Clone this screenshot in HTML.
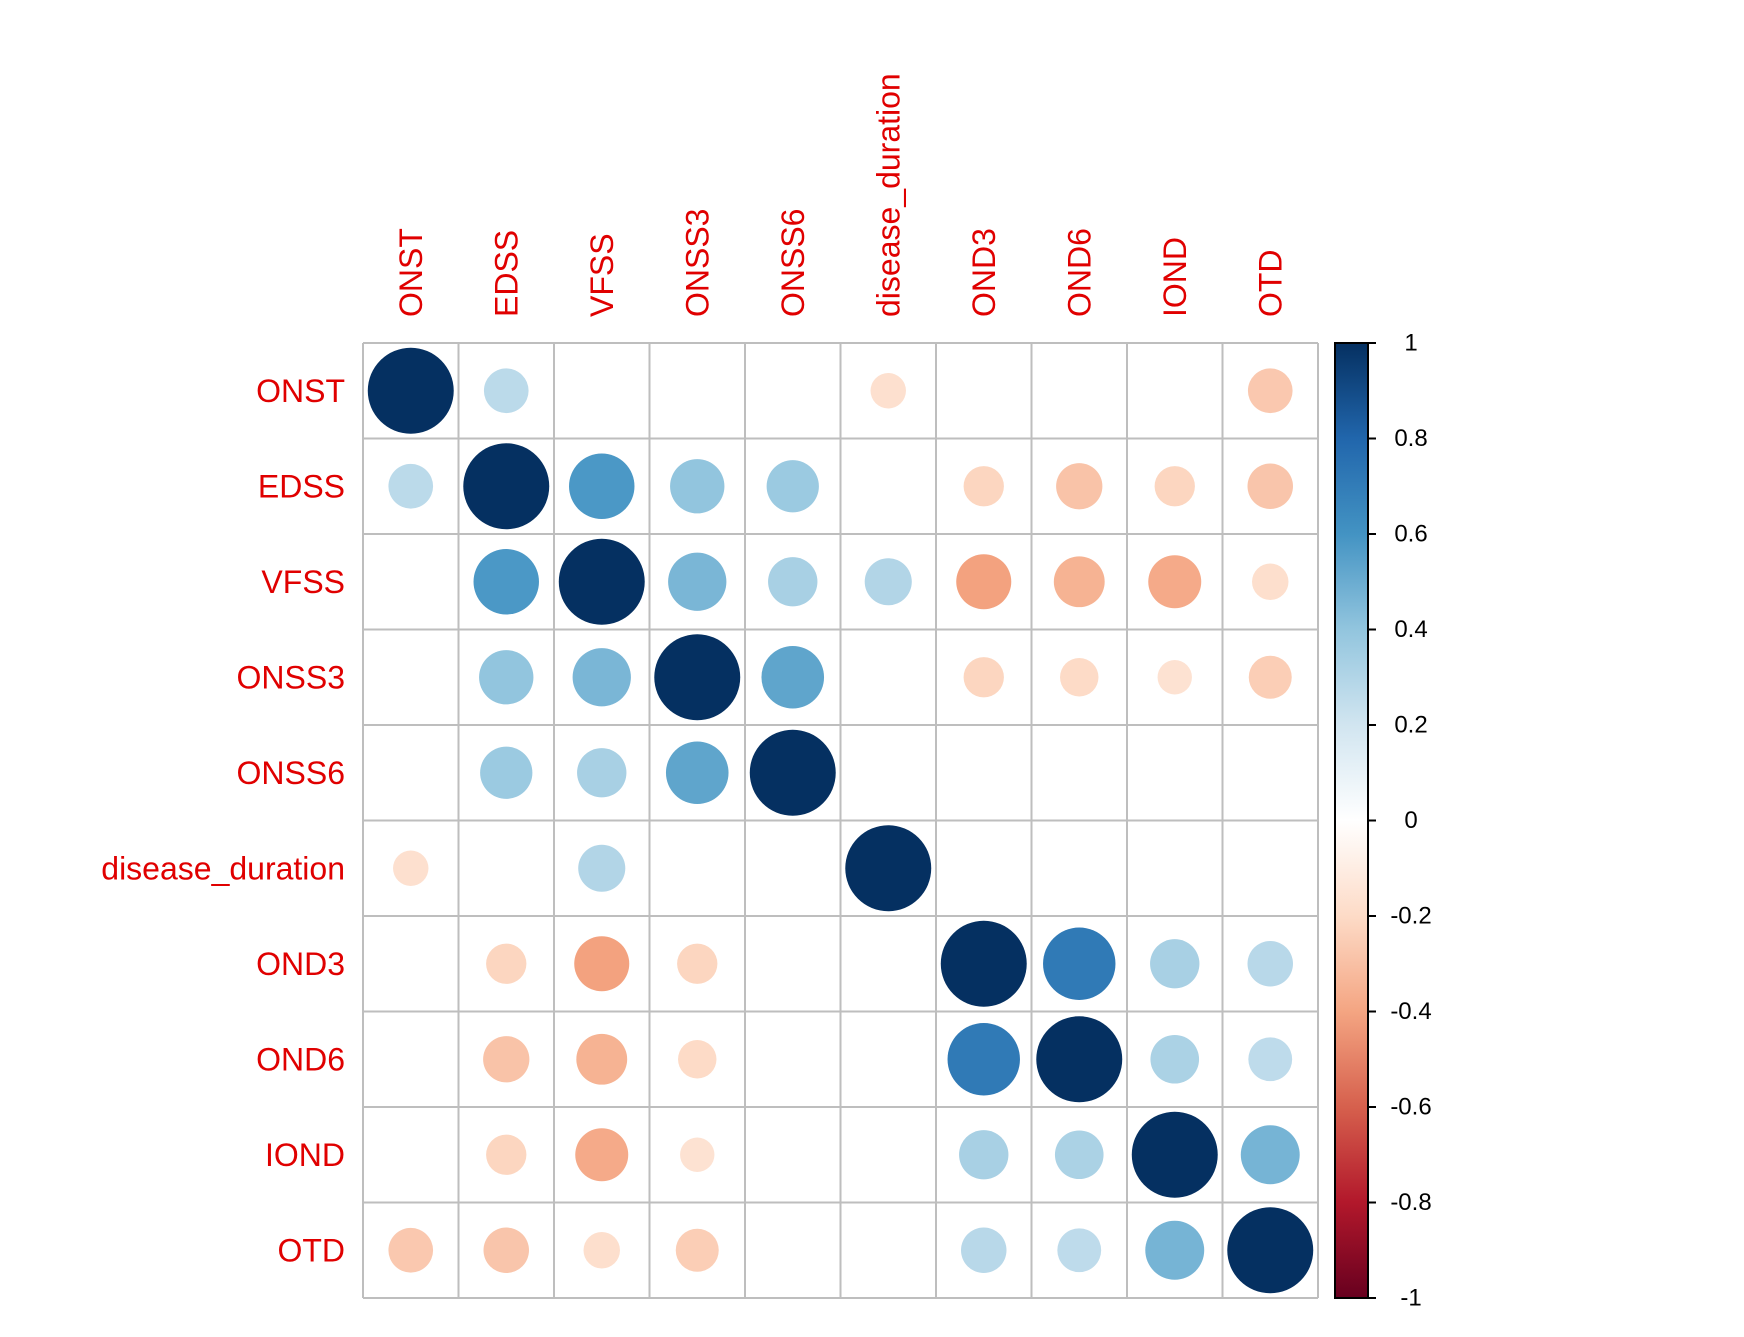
<!DOCTYPE html>
<html><head><meta charset="utf-8"><style>
html,body{margin:0;padding:0;background:#fff;}
svg{display:block;font-family:"Liberation Sans",sans-serif;}
</style></head><body>
<svg id="chart" width="1744" height="1337" viewBox="0 0 1744 1337" xmlns="http://www.w3.org/2000/svg">
<defs><linearGradient id="cbgrad" x1="0" y1="1" x2="0" y2="0">
<stop offset="0" stop-color="#67001F"/><stop offset="0.1" stop-color="#B2182B"/><stop offset="0.2" stop-color="#D6604D"/><stop offset="0.3" stop-color="#F4A582"/><stop offset="0.4" stop-color="#FDDBC7"/><stop offset="0.5" stop-color="#FFFFFF"/><stop offset="0.6" stop-color="#D1E5F0"/><stop offset="0.7" stop-color="#92C5DE"/><stop offset="0.8" stop-color="#4393C3"/><stop offset="0.9" stop-color="#2166AC"/><stop offset="1" stop-color="#053061"/>
</linearGradient></defs>
<g id="grid"></g>
<g id="marks"></g>
<g id="labels"></g>
<g id="colorbar"></g>
</svg>
<script>
const variables = ["ONST","EDSS","VFSS","ONSS3","ONSS6","disease_duration","OND3","OND6","IOND","OTD"];
const rowONST  = [1, 0.27, 0, 0, 0, -0.17, 0, 0, 0, -0.27];
const rowEDSS  = [0.27, 1, 0.58, 0.4, 0.37, 0, -0.22, -0.29, -0.22, -0.28];
const rowVFSS  = [0, 0.58, 1, 0.46, 0.33, 0.3, -0.41, -0.35, -0.38, -0.18];
const rowONSS3 = [0, 0.4, 0.46, 1, 0.53, 0, -0.22, -0.2, -0.16, -0.25];
const rowONSS6 = [0, 0.37, 0.33, 0.53, 1, 0, 0, 0, 0, 0];
const rowDD    = [-0.17, 0, 0.3, 0, 0, 1, 0, 0, 0, 0];
const rowOND3  = [0, -0.22, -0.41, -0.22, 0, 0, 1, 0.71, 0.33, 0.28];
const rowOND6  = [0, -0.29, -0.35, -0.2, 0, 0, 0.71, 1, 0.32, 0.26];
const rowIOND  = [0, -0.22, -0.38, -0.16, 0, 0, 0.33, 0.32, 1, 0.47];
const rowOTD   = [-0.27, -0.28, -0.18, -0.25, 0, 0, 0.28, 0.26, 0.47, 1];
const matrix = [rowONST,rowEDSS,rowVFSS,rowONSS3,rowONSS6,rowDD,rowOND3,rowOND6,rowIOND,rowOTD];
const colorTicks = ["1","0.8","0.6","0.4","0.2","0","-0.2","-0.4","-0.6","-0.8","-1"];
const tickValues = [1,0.8,0.6,0.4,0.2,0,-0.2,-0.4,-0.6,-0.8,-1];

const NS="http://www.w3.org/2000/svg";
const X0=363, Y0=343, SIZE=955, n=variables.length, cell=SIZE/n;
const xPos=i=>X0+cell*(i+0.5), yPos=i=>Y0+cell*(i+0.5);
const stops=[[-1,[103,0,31]],[-0.8,[178,24,43]],[-0.6,[214,96,77]],[-0.4,[244,165,130]],[-0.2,[253,219,199]],[0,[255,255,255]],[0.2,[209,229,240]],[0.4,[146,197,222]],[0.6,[67,147,195]],[0.8,[33,102,172]],[1,[5,48,97]]];
function col(v){for(let k=0;k<stops.length-1;k++){const a=stops[k],b=stops[k+1];if(v>=a[0]&&v<=b[0]){const t=(v-a[0])/(b[0]-a[0]);const c=a[1].map((x,j)=>Math.round(x+(b[1][j]-x)*t));return `rgb(${c})`;}}return '#fff';}
function mk(tag,attrs,parent){const e=document.createElementNS(NS,tag);for(const k in attrs)e.setAttribute(k,attrs[k]);parent.appendChild(e);return e;}

const grid=document.getElementById('grid');
for(let i=0;i<=n;i++){
  const l1=mk('line',{x1:X0+i*cell,x2:X0+i*cell,y1:Y0,y2:Y0+SIZE,stroke:'#bebebe','stroke-width':2},grid);
  
  
  const l2=mk('line',{y1:Y0+i*cell,y2:Y0+i*cell,x1:X0,x2:X0+SIZE,stroke:'#bebebe','stroke-width':2},grid);
  
  
}
const marks=document.getElementById('marks');
matrix.forEach((row,r)=>row.forEach((v,c)=>{
  if(v===0)return;
  const ci=mk('circle',{cx:xPos(c),cy:yPos(r),r:Math.sqrt(Math.abs(v))*cell*0.45,fill:col(v)},marks);
  
  
}));
const labels=document.getElementById('labels');
variables.forEach((name,i)=>{
  const t=mk('text',{x:345,y:yPos(i),'text-anchor':'end','dominant-baseline':'central','font-size':32,fill:'#E00000'},labels);
  t.textContent=name;
  
  
  const tc=mk('text',{x:0,y:0,'text-anchor':'start','dominant-baseline':'central','font-size':32,fill:'#E00000',transform:`translate(${xPos(i)},317) rotate(-90)`},labels);
  tc.textContent=name;
  
  
});
const cb=document.getElementById('colorbar');
const CBX=1335,CBW=33;
const cbY=v=>Y0+(1-v)/2*SIZE;
const rect=mk('rect',{x:CBX,y:Y0,width:CBW,height:SIZE,fill:'url(#cbgrad)',stroke:'#000','stroke-width':2},cb);


tickValues.forEach((v,i)=>{
  const tk=mk('line',{x1:CBX+CBW,x2:1376,y1:cbY(v),y2:cbY(v),stroke:'#000','stroke-width':2},cb);
  
  
  const tl=mk('text',{x:1411,y:cbY(v),'text-anchor':'middle','dominant-baseline':'central','font-size':24,fill:'#000'},cb);
  tl.textContent=colorTicks[i];
  
  
});
</script>
</body></html>
